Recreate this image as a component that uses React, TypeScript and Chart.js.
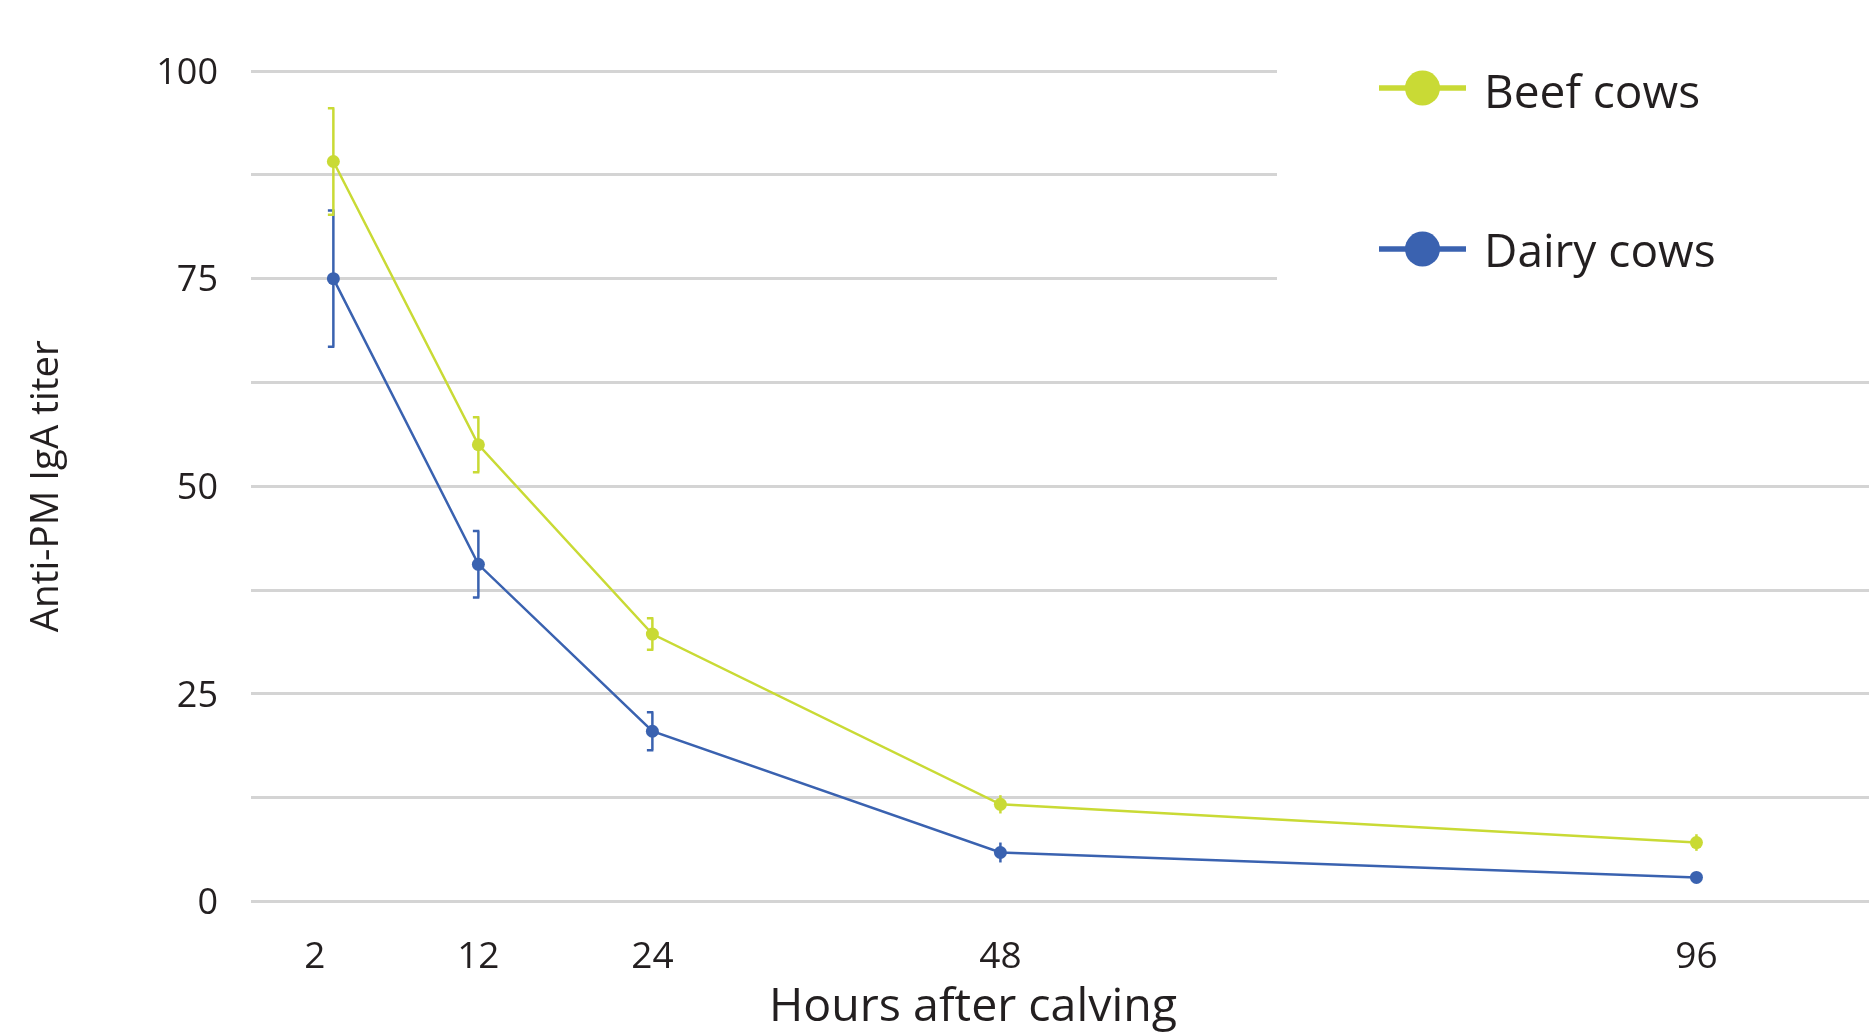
import React, { useEffect, useRef } from "react";
import { Chart, registerables } from "chart.js";

Chart.register(...registerables);

// ---- data ----
const hours = [2, 12, 24, 48, 96];
const xTickLabels = ["2", "12", "24", "48", "96"];
const beefMean = [89.1, 55.0, 32.2, 11.7, 7.1];
const beefErr = [6.4, 3.3, 1.9, 1.1, 1.0];
const dairyMean = [75.0, 40.6, 20.5, 5.9, 2.9];
const dairyErr = [8.2, 4.0, 2.3, 1.2, 0.5];
const seriesLabels = ["Beef cows", "Dairy cows"];
const seriesColors = ["#C9DA35", "#3A62B0"];
const yTitle = "Anti-PM IgA titer";
const xTitle = "Hours after calving";

const FONT = "'Open Sans', 'Noto Sans', sans-serif";
const TEXT = "#231F20";

const errorBarPlugin = {
  id: "errorBars",
  beforeDatasetsDraw(chart: any) {
    const { ctx } = chart;
    // white legend backing (covers grid lines under the legend)
    ctx.save();
    ctx.fillStyle = "#ffffff";
    ctx.fillRect(1277, 0, chart.width - 1277, 330);
    ctx.restore();

    const xs = chart.scales.x;
    const ys = chart.scales.y;
    const errs = [beefErr, dairyErr];
    const means = [beefMean, dairyMean];
    ctx.save();
    for (let d = errs.length - 1; d >= 0; d--) {
      ctx.strokeStyle = seriesColors[d];
      ctx.lineWidth = 2.5;
      for (let i = 0; i < hours.length; i++) {
        const px = xs.getPixelForValue(hours[i]);
        const top = ys.getPixelForValue(means[d][i] + errs[d][i]);
        const bot = ys.getPixelForValue(means[d][i] - errs[d][i]);
        ctx.beginPath();
        ctx.moveTo(px, top);
        ctx.lineTo(px, bot);
        if (errs[d][i] > 1.5) {
          ctx.moveTo(px + 1, top);
          ctx.lineTo(px - 5.5, top);
          ctx.moveTo(px + 1, bot);
          ctx.lineTo(px - 5.5, bot);
        }
        ctx.stroke();
      }
    }
    ctx.restore();
  },
  afterDraw(chart: any) {
    const { ctx } = chart;
    ctx.save();
    // x axis title
    ctx.fillStyle = TEXT;
    ctx.font = `46.5px ${FONT}`;
    ctx.textAlign = "center";
    ctx.textBaseline = "alphabetic";
    ctx.fillText(xTitle, 973, 1021);

    // legend
    chart.data.datasets.forEach((ds: any, i: number) => {
      const cy = 88 + i * 161;
      ctx.strokeStyle = ds.borderColor;
      ctx.lineWidth = 5.5;
      ctx.beginPath();
      ctx.moveTo(1379, cy);
      ctx.lineTo(1466, cy);
      ctx.stroke();
      ctx.fillStyle = ds.borderColor;
      ctx.beginPath();
      ctx.arc(1422.5, cy, 17.5, 0, Math.PI * 2);
      ctx.fill();
      ctx.fillStyle = TEXT;
      ctx.font = `46px ${FONT}`;
      ctx.textAlign = "left";
      ctx.textBaseline = "middle";
      ctx.fillText(ds.label, 1484, cy + 7 - i * 2);
    });
    ctx.restore();
  },
};

export default function App() {
  const ref = useRef<HTMLCanvasElement | null>(null);

  useEffect(() => {
    if (!ref.current) return;
    const mk = (vals: number[]) => hours.map((h, i) => ({ x: h, y: vals[i] }));
    const chart = new Chart(ref.current, {
      type: "line",
      data: {
        datasets: [
          {
            label: seriesLabels[0],
            data: mk(beefMean),
            borderColor: seriesColors[0],
            backgroundColor: seriesColors[0],
            borderWidth: 2.5,
            pointRadius: 6.5,
            pointBorderWidth: 0,
            pointBackgroundColor: seriesColors[0],
            tension: 0,
          },
          {
            label: seriesLabels[1],
            data: mk(dairyMean),
            borderColor: seriesColors[1],
            backgroundColor: seriesColors[1],
            borderWidth: 2.5,
            pointRadius: 6.5,
            pointBorderWidth: 0,
            pointBackgroundColor: seriesColors[1],
            tension: 0,
          },
        ],
      },
      options: {
        animation: false,
        responsive: true,
        maintainAspectRatio: false,
        layout: { autoPadding: false, padding: { top: 71, left: 0, right: 0, bottom: 0 } },
        plugins: {
          legend: { display: false },
          tooltip: { enabled: false },
        },
        scales: {
          x: {
            type: "linear",
            min: -3.68,
            max: 107.9,
            grid: { display: false, drawTicks: false },
            border: { display: false },
            afterBuildTicks: (s: any) => {
              s.ticks = hours.map((v) => ({ value: v }));
            },
            afterFit: (s: any) => {
              s.height = 130.5;
              s.paddingLeft = 0;
              s.paddingRight = 0;
            },
            ticks: {
              autoSkip: false,
              maxRotation: 0,
              padding: 34,
              color: TEXT,
              font: { family: FONT, size: 37 },
              callback: (v: any) => {
                const idx = hours.indexOf(Number(v));
                const lab = idx >= 0 ? xTickLabels[idx] : "";
                return idx === 0 ? lab + "\u2003" : lab;
              },
            },
          },
          y: {
            min: 0,
            max: 100,
            grid: { color: "#D4D4D4", lineWidth: 3, drawTicks: false },
            border: { display: false },
            afterFit: (s: any) => {
              s.width = 251;
            },
            ticks: {
              stepSize: 12.5,
              autoSkip: false,
              padding: 33,
              labelOffset: 2.5,
              color: TEXT,
              font: { family: FONT, size: 36 },
              callback: (v: any) => (Number(v) % 25 === 0 ? String(v) : ""),
            },
            title: {
              display: true,
              text: yTitle,
              color: TEXT,
              font: { family: FONT, size: 38.5 },
              padding: { top: 24, bottom: 0 },
            },
          },
        },
      },
      plugins: [errorBarPlugin],
    });
    return () => chart.destroy();
  }, []);

  return (
    <div style={{ position: "fixed", left: 0, top: 0, width: 1869, height: 1032, background: "#fff" }}>
      <canvas ref={ref} />
    </div>
  );
}
